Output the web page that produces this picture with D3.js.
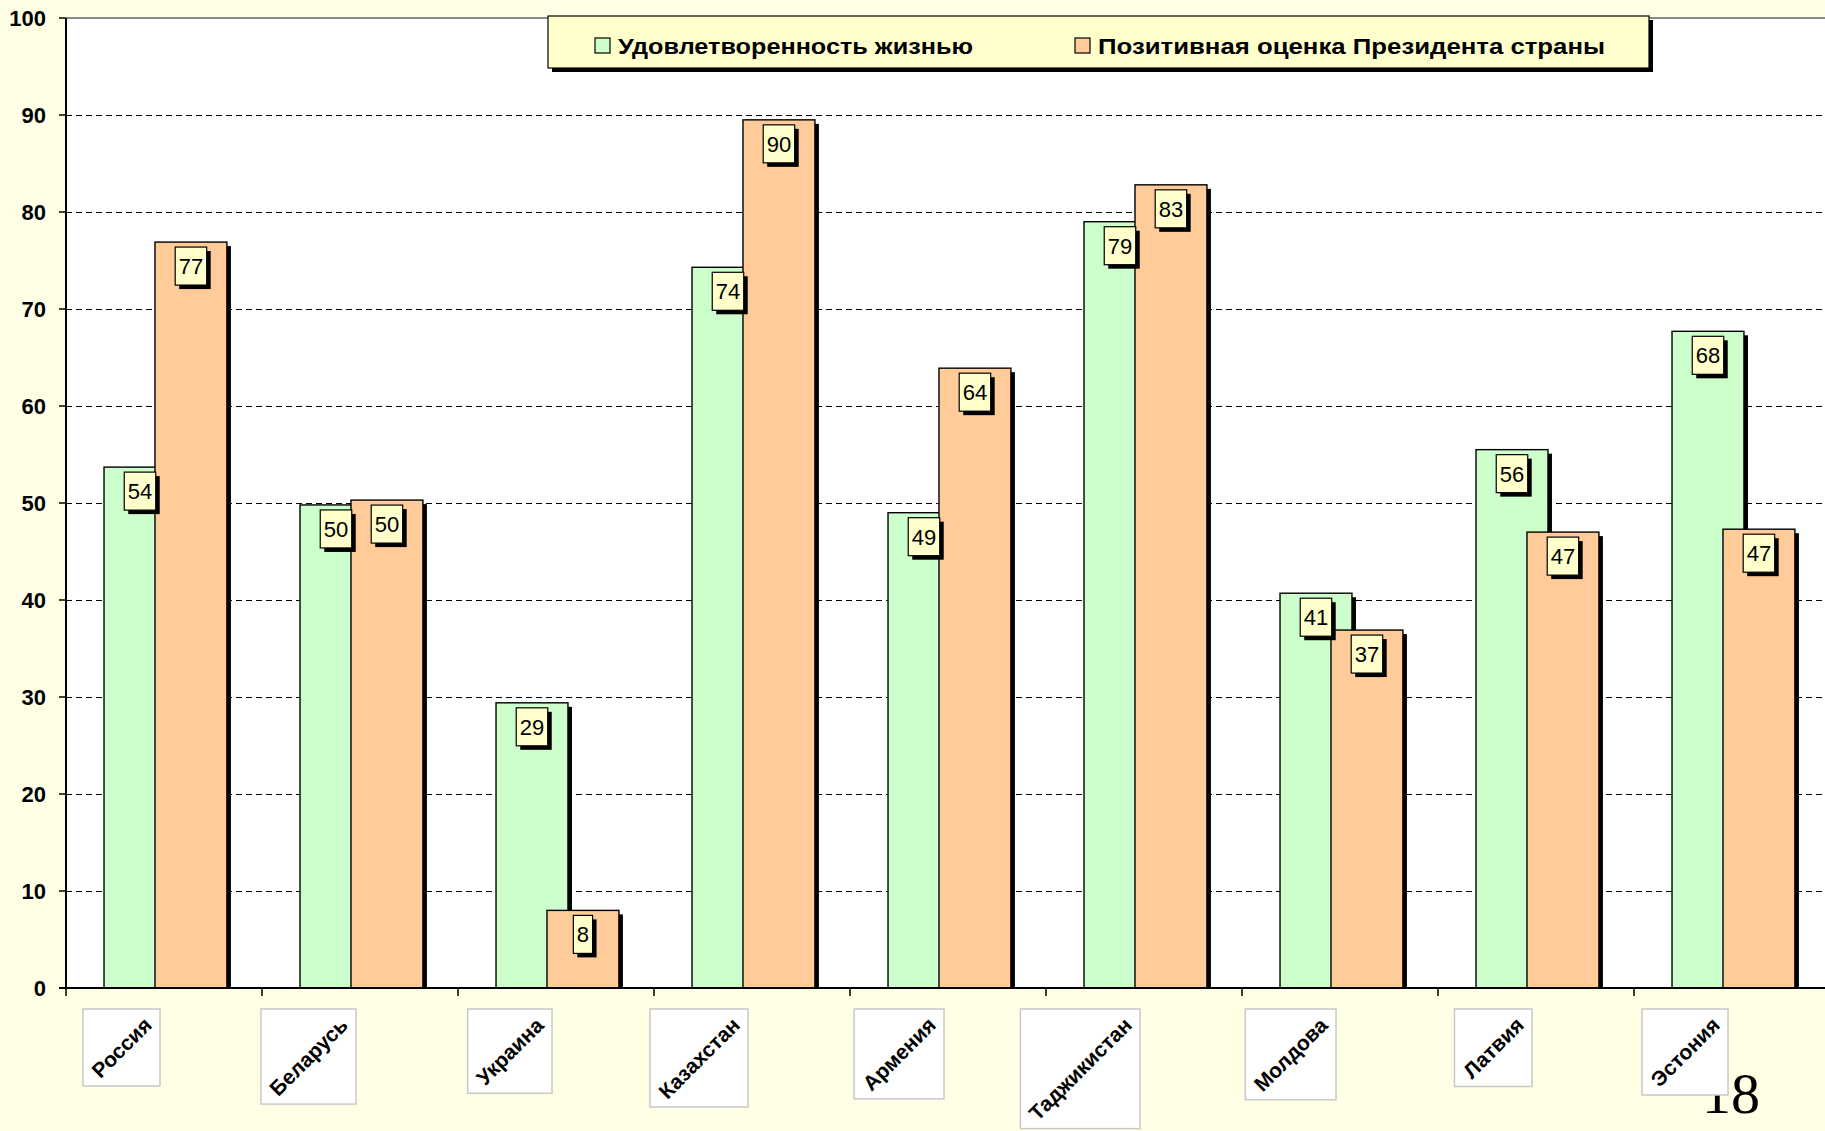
<!DOCTYPE html>
<meta charset="utf-8">
<script src="https://d3js.org/d3.v7.min.js"></script>
<style>
  body { margin: 0; background: #ffffe6; }
  text { font-family: "Liberation Sans", Arial, sans-serif; }
</style>
<svg id="chart"></svg>
<script>

// data
var countries = ["Россия", "Беларусь", "Украина", "Казахстан", "Армения", "Таджикистан", "Молдова", "Латвия", "Эстония"];
var lifeSatisfaction = [53.7, 49.8, 29.4, 74.3, 49.0, 79.0, 40.7, 55.5, 67.7];
var presidentApproval = [76.9, 50.3, 8.0, 89.5, 63.9, 82.8, 36.9, 47.0, 47.3];
var seriesNames = ["Удовлетворенность жизнью", "Позитивная оценка Президента страны"];
var yTicks = [0, 10, 20, 30, 40, 50, 60, 70, 80, 90, 100];
var pageNumber = "18";

var W = 1825, H = 1131;
var plot = { left: 66, top: 18, bottom: 988, right: 1830 };
var colors = ["#ccffcc", "#ffcc99"];

var svg = d3.select("#chart").attr("width", W).attr("height", H);

svg.append("rect").attr("width", W).attr("height", H).attr("fill", "#ffffe6");

var x = d3.scaleBand().domain(countries).range([plot.left, plot.right]);
var y = d3.scaleLinear().domain([0, 100]).range([plot.bottom, plot.top]);
var bw = x.bandwidth();
var barW = bw * 0.367;
var offsets = [bw * 0.194, bw * 0.454];

// plot area
svg.append("rect")
  .attr("x", plot.left).attr("y", plot.top)
  .attr("width", W - plot.left).attr("height", plot.bottom - plot.top)
  .attr("fill", "#ffffff");

// gridlines
svg.append("g").selectAll("line")
  .data(yTicks.filter(function (d) { return d > 0 && d < 100; }))
  .join("line")
  .attr("x1", plot.left).attr("x2", W)
  .attr("y1", function (d) { return Math.round(y(d)) + 0.5; })
  .attr("y2", function (d) { return Math.round(y(d)) + 0.5; })
  .attr("stroke", "#000").attr("stroke-width", 1.2)
  .attr("stroke-dasharray", "6,4");

svg.append("line")
  .attr("x1", plot.left).attr("x2", W)
  .attr("y1", y(100)).attr("y2", y(100))
  .attr("stroke", "#8a8a8a").attr("stroke-width", 2);

// bars
var rows = countries.map(function (c, i) {
  return { country: c, values: [lifeSatisfaction[i], presidentApproval[i]] };
});

var groups = svg.append("g").selectAll("g")
  .data(rows).join("g")
  .attr("transform", function (d) { return "translate(" + x(d.country) + ",0)"; });

[0, 1].forEach(function (s) {
  groups.append("rect")
    .attr("x", offsets[s] + 4).attr("y", function (d) { return y(d.values[s]) + 4; })
    .attr("width", barW).attr("height", function (d) { return plot.bottom - y(d.values[s]) - 4; })
    .attr("fill", "#000");
  groups.append("rect")
    .attr("x", offsets[s]).attr("y", function (d) { return y(d.values[s]); })
    .attr("width", barW).attr("height", function (d) { return plot.bottom - y(d.values[s]); })
    .attr("fill", colors[s]).attr("stroke", "#000").attr("stroke-width", 1.4);
});

// axes
svg.append("line")
  .attr("x1", plot.left).attr("x2", plot.left)
  .attr("y1", plot.top).attr("y2", plot.bottom)
  .attr("stroke", "#000").attr("stroke-width", 2);
svg.append("line")
  .attr("x1", plot.left - 7).attr("x2", W)
  .attr("y1", plot.bottom).attr("y2", plot.bottom)
  .attr("stroke", "#000").attr("stroke-width", 2);

var yAxis = svg.append("g").selectAll("g").data(yTicks).join("g")
  .attr("transform", function (d) { return "translate(0," + y(d) + ")"; });
yAxis.append("line").attr("x1", plot.left - 7).attr("x2", plot.left).attr("stroke", "#000").attr("stroke-width", 1.5);
yAxis.append("text")
  .attr("x", 46).attr("dy", "0.36em").attr("text-anchor", "end")
  .attr("font-size", 22).attr("font-weight", "bold")
  .text(function (d) { return d; });

svg.append("g").selectAll("line").data(countries).join("line")
  .attr("x1", function (d) { return x(d); }).attr("x2", function (d) { return x(d); })
  .attr("y1", plot.bottom).attr("y2", plot.bottom + 8)
  .attr("stroke", "#000").attr("stroke-width", 1.5);

// data labels
[0, 1].forEach(function (s) {
  groups.each(function (d) {
    var g = d3.select(this);
    var v = d.values[s];
    var cx = offsets[s] + barW / 2;
    var lbl = g.append("g").attr("transform", "translate(" + cx + "," + (y(v) + 5) + ")");
    var t = lbl.append("text")
      .attr("text-anchor", "middle").attr("y", 27)
      .attr("font-size", 22)
      .text(Math.round(v));
    var tw = t.node().getComputedTextLength();
    var bx = tw + 7;
    lbl.insert("rect", "text").attr("x", -bx / 2 + 4).attr("y", 4)
      .attr("width", bx).attr("height", 38).attr("fill", "#000");
    lbl.insert("rect", "text").attr("x", -bx / 2).attr("y", 0)
      .attr("width", bx).attr("height", 38)
      .attr("fill", "#ffffcc").attr("stroke", "#000").attr("stroke-width", 1.2);
  });
});

// page number (sits behind the last category label)
svg.append("text")
  .attr("x", 1702).attr("y", 1113)
  .style("font-family", "'Liberation Serif', 'Times New Roman', serif")
  .attr("font-size", 58)
  .text(pageNumber);

// category labels, rotated in white boxes
countries.forEach(function (c) {
  var cg = svg.append("g");
  var inner = cg.append("g");
  inner.append("text")
    .attr("text-anchor", "end")
    .attr("transform", "rotate(-45)")
    .attr("font-size", 21).attr("font-weight", "bold")
    .text(c);
  var bb = inner.node().getBBox();
  var pad = 4;
  var right = x(c) + bw / 2 - 4;
  var top = 1009;
  inner.attr("transform", "translate(" + (right - pad - (bb.x + bb.width)) + "," + (top + pad - bb.y) + ")");
  cg.insert("rect", "g")
    .attr("x", right - bb.width - 2 * pad).attr("y", top)
    .attr("width", bb.width + 2 * pad).attr("height", bb.height + 2 * pad)
    .attr("fill", "#fff").attr("stroke", "#c8c8c8").attr("stroke-width", 1.5);
});

// legend
var legend = svg.append("g").attr("transform", "translate(548,16)");
legend.append("rect").attr("x", 4).attr("y", 4).attr("width", 1101).attr("height", 52).attr("fill", "#000");
legend.append("rect").attr("width", 1101).attr("height", 52)
  .attr("fill", "#ffffcc").attr("stroke", "#000").attr("stroke-width", 1.2);
var legX = [47, 527];
var legW = [355, 507];
seriesNames.forEach(function (name, i) {
  legend.append("rect").attr("x", legX[i]).attr("y", 22).attr("width", 15).attr("height", 15)
    .attr("fill", colors[i]).attr("stroke", "#000").attr("stroke-width", 1.2);
  legend.append("text").attr("x", legX[i] + 23).attr("y", 38)
    .attr("font-size", 22).attr("font-weight", "bold")
    .attr("textLength", legW[i]).attr("lengthAdjust", "spacingAndGlyphs")
    .text(name);
});

</script>
